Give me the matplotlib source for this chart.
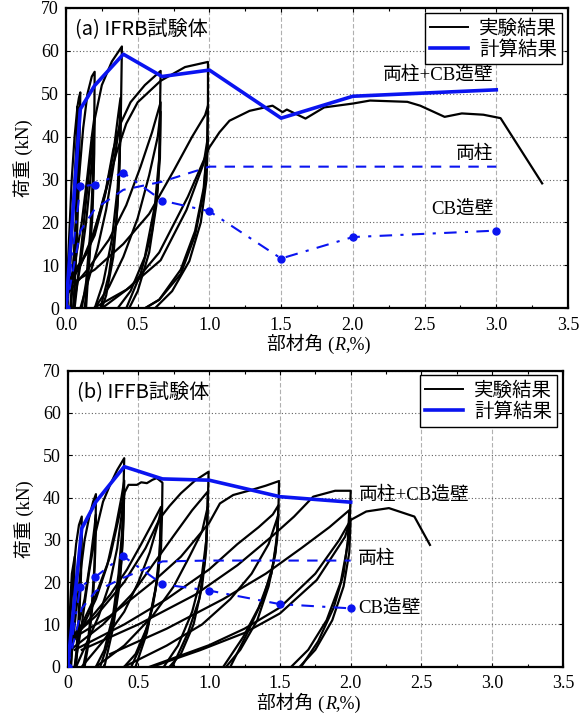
import matplotlib
matplotlib.use("Agg")
import matplotlib.pyplot as plt
from matplotlib.ticker import MultipleLocator

# ---- (a) IFRB ----
# experimental curves, each one (x list, y list)
a_exp = [
    ([0, 0.02, 0.04, 0.06, 0.08, 0.09, 0.1, 0.097, 0.09, 0.075, 0.06, 0.05],
     [0, 15, 30, 40, 47, 49, 50.3, 44, 30, 15, 5, 0]),
    ([0, 0.02, 0.04, 0.06, 0.075, 0.08, 0.078, 0.07, 0.05, 0.035],
     [0, 8, 18, 30, 40, 47, 38, 22, 8, 0]),
    ([0.01, 0.03, 0.05, 0.07, 0.085, 0.082, 0.07, 0.055],
     [0, 10, 22, 33, 42, 30, 15, 0]),
    ([0.03, 0.06, 0.09, 0.12, 0.15, 0.18, 0.2, 0.198, 0.19, 0.17, 0.14, 0.11],
     [0, 15, 30, 42, 50, 54, 55.1, 46, 32, 18, 6, 0]),
    ([0.0, 0.06, 0.11, 0.15, 0.18, 0.2, 0.197, 0.185, 0.16, 0.13],
     [3, 10, 20, 31, 40, 45, 36, 22, 10, 0]),
    ([0.05, 0.1, 0.14, 0.17, 0.195, 0.19, 0.17, 0.14],
     [0, 10, 20, 30, 40, 30, 16, 0]),
    ([0.06, 0.1, 0.14, 0.18, 0.2, 0.25, 0.32, 0.39, 0.385, 0.38, 0.36, 0.32, 0.26, 0.2],
     [0, 12, 25, 38, 44, 52, 57.5, 61, 50, 40, 28, 16, 6, 0]),
    ([0.0, 0.1, 0.2, 0.27, 0.33, 0.36, 0.38, 0.378, 0.37, 0.35, 0.3, 0.24],
     [4, 10, 17, 26, 36, 44, 49, 40, 30, 20, 8, 0]),
    ([0.1, 0.16, 0.22, 0.28, 0.33, 0.37, 0.38, 0.375, 0.36, 0.33, 0.28, 0.25],
     [0, 7, 14, 23, 33, 42, 45, 35, 24, 12, 3, 0]),
    ([0.0, 0.1, 0.2, 0.28, 0.33, 0.38, 0.45, 0.55, 0.66, 0.655, 0.65, 0.62, 0.55, 0.45, 0.36],
     [5, 10, 18, 28, 37, 43, 48, 52, 55.3, 45, 35, 24, 12, 4, 0]),
    ([0.0, 0.15, 0.3, 0.42, 0.52, 0.6, 0.66, 0.655, 0.64, 0.6, 0.52, 0.42],
     [3, 9, 16, 24, 33, 41, 48, 38, 28, 18, 8, 0]),
    ([0.2, 0.3, 0.4, 0.5, 0.58, 0.64, 0.66, 0.655, 0.63, 0.58, 0.5, 0.44],
     [0, 5, 12, 21, 31, 40, 45.8, 35, 24, 13, 4, 0]),
    ([0.0, 0.15, 0.25, 0.35, 0.42, 0.5, 0.66, 0.83, 0.99, 0.99, 0.985, 0.96, 0.9, 0.8, 0.65, 0.55],
     [6, 13, 24, 36, 43, 48, 53, 56.2, 57.4, 48, 38, 28, 18, 9, 2, 0]),
    ([0.0, 0.2, 0.4, 0.58, 0.75, 0.88, 0.97, 0.99, 0.985, 0.96, 0.9, 0.8, 0.65, 0.55],
     [5, 9, 15, 22, 32, 40, 45, 47.2, 38, 27, 17, 8, 2, 0]),
    ([0.19, 0.42, 0.66, 0.84, 0.96, 0.99, 0.98, 0.94, 0.86, 0.74, 0.62],
     [0, 4.3, 11.2, 22.9, 33.8, 40, 30, 20, 11, 4, 0]),
    ([0.25, 0.45, 0.65, 0.85, 1.0, 1.07, 1.14, 1.28, 1.44, 1.51, 1.54, 1.67, 1.8, 2.0,
      2.12, 2.38, 2.47, 2.64, 2.76, 2.91, 3.03, 3.32],
     [0, 5, 13, 26, 37.5, 41, 43.7, 46, 47.2, 45.7, 46.3, 44.2, 46.8, 47.7,
      48.4, 48.1, 47.2, 44.6, 45.4, 45.1, 44.3, 29.1]),
]
a_R = [0, 0.1, 0.2, 0.4, 0.67, 1.0, 1.5, 2.0, 3.0]
a_total = [0, 46.4, 51.9, 59.2, 54.0, 55.5, 44.3, 49.4, 50.9]
a_col_R = [0, 0.1, 0.2, 0.4, 0.67, 1.0, 3.0]
a_col = [0, 18.0, 23.1, 27.6, 29.5, 33.0, 33.0]
a_wall_R = [0, 0.1, 0.2, 0.4, 0.67, 1.0, 1.5, 2.0, 3.0]
a_wall = [0, 28.4, 28.8, 31.6, 25.1, 22.6, 11.6, 16.6, 18.1]

# ---- (b) IFFB ----
b_exp = [
    ([0, 0.01, 0.02, 0.03, 0.05, 0.045, 0.035, 0.025],
     [0, 8, 16, 22, 26, 18, 8, 0]),
    ([0, 0.02, 0.04, 0.06, 0.08, 0.1, 0.098, 0.09, 0.075, 0.06, 0.05],
     [0, 12, 22, 29, 33.5, 35.5, 30, 20, 10, 3, 0]),
    ([0.01, 0.03, 0.06, 0.085, 0.1, 0.095, 0.08, 0.06],
     [0, 8, 18, 27, 32, 22, 10, 0]),
    ([0.02, 0.05, 0.09, 0.12, 0.15, 0.18, 0.2, 0.198, 0.19, 0.17, 0.14, 0.11],
     [0, 10, 22, 30, 35, 39, 40.8, 34, 24, 14, 5, 0]),
    ([0.0, 0.07, 0.12, 0.16, 0.19, 0.2, 0.195, 0.18, 0.15, 0.12],
     [3, 9, 16, 25, 33, 36, 27, 16, 6, 0]),
    ([0.05, 0.1, 0.15, 0.2, 0.25, 0.3, 0.35, 0.4, 0.395, 0.385, 0.36, 0.32, 0.26, 0.2],
     [0, 10, 22, 32, 39, 43, 46.5, 49.3, 42, 32, 22, 12, 4, 0]),
    ([0.0, 0.1, 0.2, 0.28, 0.34, 0.38, 0.4, 0.395, 0.38, 0.34, 0.28, 0.23],
     [4, 9, 16, 24, 33, 40, 44, 35, 25, 14, 5, 0]),
    ([0.06, 0.14, 0.22, 0.3, 0.35, 0.39, 0.4, 0.39, 0.37, 0.32, 0.26],
     [0, 6, 12, 20, 28, 38, 41, 30, 20, 9, 0]),
    ([0.0, 0.1, 0.2, 0.3, 0.36, 0.4, 0.43, 0.49, 0.52, 0.56, 0.6, 0.63, 0.66, 0.67,
      0.667, 0.66, 0.63, 0.57, 0.48, 0.4],
     [5, 10, 17, 26, 35, 41, 43, 43, 43.6, 43.4, 44.2, 44.6, 43.8, 43.5,
      36, 28, 20, 10, 3, 0]),
    ([0.0, 0.15, 0.3, 0.42, 0.52, 0.6, 0.66, 0.655, 0.64, 0.6, 0.53, 0.45],
     [6, 11, 17, 23, 29, 34, 37.8, 30, 22, 14, 6, 0]),
    ([0.1, 0.25, 0.4, 0.5, 0.58, 0.64, 0.66, 0.65, 0.62, 0.56, 0.48],
     [0, 6, 13, 20, 27, 34, 37, 27, 18, 8, 0]),
    ([0.0, 0.2, 0.4, 0.55, 0.65, 0.72, 0.8, 0.9, 0.996, 0.99, 0.98, 0.95, 0.88, 0.78, 0.68],
     [6, 12, 20, 28, 35, 38, 41, 44, 46.1, 38, 30, 22, 13, 5, 0]),
    ([0.02, 0.25, 0.45, 0.6, 0.75, 0.88, 0.99, 0.985, 0.97, 0.93, 0.85, 0.74],
     [4, 10, 17, 24, 31, 37, 41.4, 33, 25, 16, 8, 0]),
    ([0.2, 0.4, 0.6, 0.75, 0.86, 0.95, 0.99, 0.98, 0.95, 0.89, 0.8, 0.72],
     [0, 5, 12, 19, 26, 32, 37.8, 28, 19, 10, 3, 0]),
    ([0.0, 0.3, 0.6, 0.8, 1.0, 1.076, 1.17, 1.3, 1.4, 1.494, 1.49, 1.48, 1.44, 1.35, 1.24, 1.1],
     [6, 12, 20, 26, 34, 38.6, 40.6, 41.8, 42.8, 43.9, 38, 30, 22, 14, 7, 0]),
    ([0.05, 0.4, 0.7, 1.0, 1.2, 1.35, 1.45, 1.49, 1.48, 1.45, 1.38, 1.27, 1.15],
     [4, 10, 16, 23, 29, 33, 36, 38.2, 31, 24, 16, 8, 0]),
    ([0.4, 0.7, 0.95, 1.15, 1.3, 1.42, 1.49, 1.47, 1.42, 1.34, 1.22, 1.12],
     [0, 5, 10, 16, 22, 29, 36, 27, 19, 11, 4, 0]),
    ([0.1, 0.5, 0.9, 1.2, 1.45, 1.6, 1.735, 1.89, 2.0, 1.995, 1.98, 1.93, 1.83, 1.7, 1.58],
     [4, 10, 17, 24, 31, 35.5, 40.2, 41.6, 41.6, 36, 29, 20, 11, 4, 0]),
    ([0.3, 0.7, 1.1, 1.4, 1.65, 1.85, 1.99, 1.98, 1.95, 1.88, 1.77, 1.65],
     [3, 9, 16, 22, 28, 33, 37, 30, 22, 14, 6, 0]),
    ([0.6, 0.935, 1.25, 1.5, 1.76, 1.96, 2.0, 1.99, 1.95, 1.87, 1.75, 1.64],
     [0, 3.9, 8, 12.6, 20.5, 30.7, 35, 27, 19, 11, 4, 0]),
    ([0.58, 1.0, 1.25, 1.5, 1.75, 1.92, 2.0, 2.11, 2.27, 2.45, 2.56],
     [0, 5.1, 9, 14, 22, 30, 34.7, 36.7, 37.5, 35.5, 28.8]),
]
b_R = [0, 0.1, 0.2, 0.4, 0.67, 1.0, 1.5, 2.0]
b_total = [0, 32.7, 39.0, 47.3, 44.4, 44.1, 40.2, 38.9]
b_col_R = [0, 0.1, 0.2, 0.4, 0.67, 1.0, 2.0]
b_col = [0, 13.8, 17.9, 21.1, 24.9, 25.1, 25.1]
b_wall_R = [0, 0.09, 0.19, 0.39, 0.67, 1.0, 1.5, 2.0]
b_wall = [0, 18.9, 21.1, 26.2, 19.5, 18.0, 14.8, 13.8]

y_ticks = [0, 10, 20, 30, 40, 50, 60, 70]
x_ticks = [0, 0.5, 1.0, 1.5, 2.0, 2.5, 3.0, 3.5]

BLUE = "#0a14f0"
serif_cjk = ["Liberation Serif", "Noto Sans CJK JP"]
sans_cjk = ["Noto Sans CJK JP", "DejaVu Sans"]
plt.rcParams["font.family"] = serif_cjk
plt.rcParams["font.size"] = 13

fig = plt.figure(figsize=(5.87, 7.18), dpi=100)
ax_a = fig.add_axes([0.1124, 0.5706, 0.8552, 0.4185])
ax_b = fig.add_axes([0.1152, 0.0714, 0.8439, 0.4124])


def draw(ax, exp, R, total, col_R, col, wall_R, wall, title, xtick_labels, rx, ry):
    for xs, ys in exp:
        ax.plot(xs, ys, color="black", lw=1.6, solid_joinstyle="round", zorder=2)
    ax.plot(col_R, col, color=BLUE, lw=1.5, ls=(0, (5, 4)), zorder=3)
    ax.plot(wall_R, wall, color=BLUE, lw=1.5, ls=(0, (6, 4, 1.5, 4)),
            marker="o", ms=5, zorder=3)
    ax.plot(R, total, color=BLUE, lw=2.6, zorder=4)
    # legend handles
    ax.plot([], [], color="black", lw=1.4, label="実験結果")
    ax.plot([], [], color=BLUE, lw=2.6, label="計算結果")

    ax.set_xlim(0, 3.5)
    ax.set_ylim(0, 70)
    ax.set_xticks(x_ticks)
    ax.set_xticklabels(xtick_labels)
    ax.xaxis.set_minor_locator(MultipleLocator(0.25))
    ax.set_yticks(y_ticks)
    ax.set_yticklabels([str(v) for v in y_ticks])
    ax.tick_params(which="both", direction="in", top=True, right=True, length=3, width=0.8)
    ax.tick_params(axis="x", pad=6)
    ax.tick_params(axis="y", pad=5)
    ax.tick_params(which="minor", length=2)
    for s in ax.spines.values():
        s.set_linewidth(1.6)
    ax.xaxis.grid(True, color="#b0b0b0", ls=(0, (4, 2)), lw=0.8)
    ax.yaxis.grid(True, color="#606060", ls=(0, (1, 2)), lw=0.8)
    ax.set_axisbelow(True)
    ax.text(0.018, 0.93, title, transform=ax.transAxes, family=sans_cjk,
            fontsize=14.5, va="center", ha="left")
    ax.set_ylabel("荷重 (kN)", fontsize=13.5, labelpad=6)

    # x label: 部材角 (R,%) with italic R
    t_r = ax.text(rx, ry, "R", transform=ax.transAxes, ha="center", va="center",
                  fontsize=13, style="italic")
    ax.annotate("部材角 (", xy=(0, 0), xycoords=t_r, ha="right", va="bottom",
                fontsize=13.5, annotation_clip=False)
    ax.annotate(",%)", xy=(1, 0), xycoords=t_r, ha="left", va="bottom",
                fontsize=13, annotation_clip=False)

    leg = ax.legend(loc="upper right", bbox_to_anchor=(0.988, 0.984),
                    prop={"family": sans_cjk, "size": 14}, frameon=True,
                    fancybox=False, edgecolor="black", framealpha=1,
                    handlelength=2.0, handletextpad=0.55, borderpad=0.25,
                    labelspacing=0.0, borderaxespad=0)
    leg.get_frame().set_linewidth(1.0)


draw(ax_a, a_exp, a_R, a_total, a_col_R, a_col, a_wall_R, a_wall,
     "(a) IFRB試験体", ["0.0", "0.5", "1.0", "1.5", "2.0", "2.5", "3.0", "3.5"],
     0.546, -0.125)
draw(ax_b, b_exp, b_R, b_total, b_col_R, b_col, b_wall_R, b_wall,
     "(b) IFFB試験体", ["0", "0.5", "1.0", "1.5", "2.0", "2.5", "3.0", "3.5"],
     0.53, -0.129)

ax_a.text(2.98, 54.3, "両柱+CB造壁", ha="right", va="center", fontsize=13.5)
ax_a.text(2.98, 35.8, "両柱", ha="right", va="center", fontsize=13.5)
ax_a.text(2.98, 23.2, "CB造壁", ha="right", va="center", fontsize=13.5)

ax_b.text(2.06, 40.6, "両柱+CB造壁", ha="left", va="center", fontsize=13.5)
ax_b.text(2.05, 25.3, "両柱", ha="left", va="center", fontsize=13.5)
ax_b.text(2.05, 13.8, "CB造壁", ha="left", va="center", fontsize=13.5)

fig.savefig("out.png", dpi=100)
